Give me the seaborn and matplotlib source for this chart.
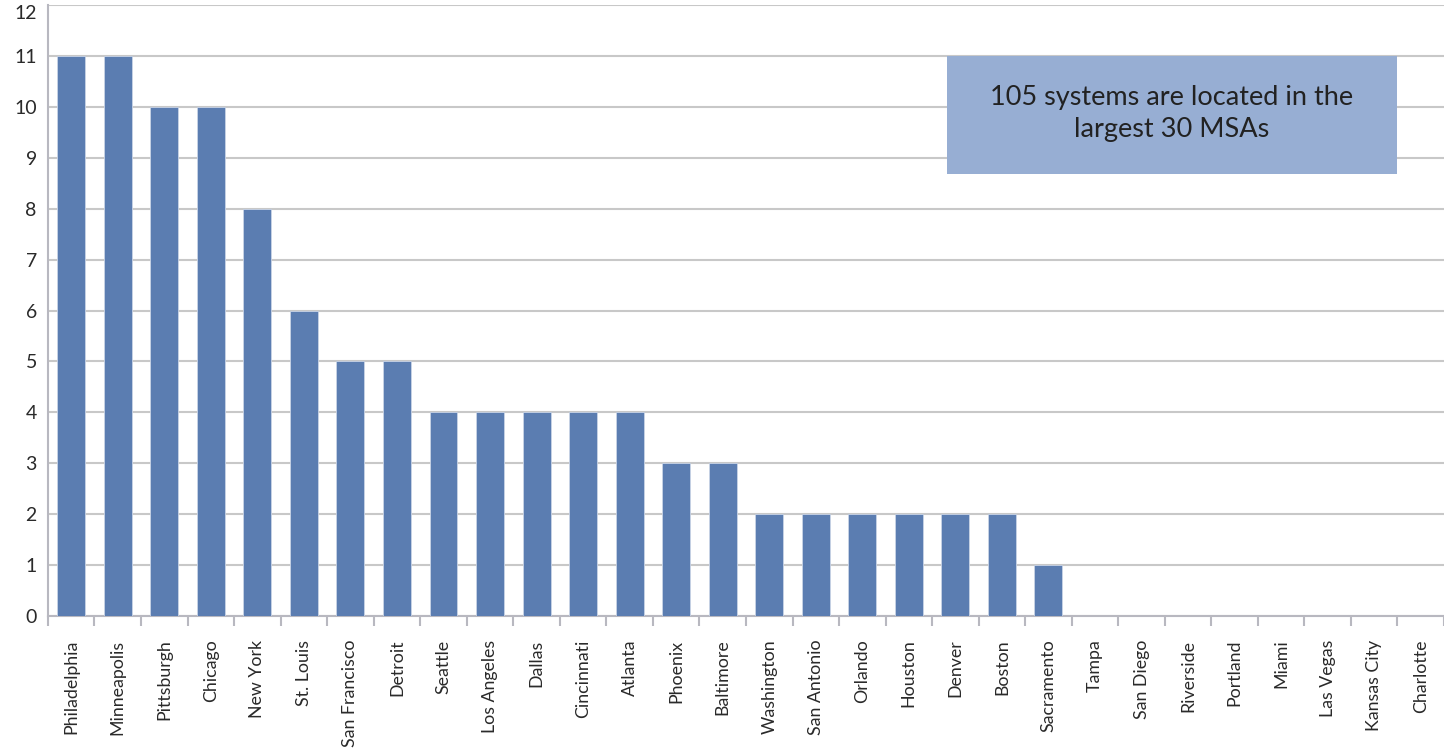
import matplotlib
matplotlib.use("Agg")
import matplotlib.pyplot as plt
import seaborn as sns
import pandas as pd
from matplotlib.patches import Rectangle

cities = ["Philadelphia", "Minneapolis", "Pittsburgh", "Chicago", "New York", "St. Louis",
          "San Francisco", "Detroit", "Seattle", "Los Angeles", "Dallas", "Cincinnati",
          "Atlanta", "Phoenix", "Baltimore", "Washington", "San Antonio", "Orlando",
          "Houston", "Denver", "Boston", "Sacramento", "Tampa", "San Diego", "Riverside",
          "Portland", "Miami", "Las Vegas", "Kansas City", "Charlotte"]
systems = [11, 11, 10, 10, 8, 6, 5, 5, 4, 4, 4, 4, 4, 3, 3, 2, 2, 2, 2, 2, 2, 1,
           0, 0, 0, 0, 0, 0, 0, 0]
note = "105 systems are located in the\nlargest 30 MSAs"

df = pd.DataFrame({"city": cities, "systems": systems})

sns.set_theme(style="white")
plt.rcParams['font.family'] = ['Lato', 'DejaVu Sans']

fig = plt.figure(figsize=(14.44, 7.5), dpi=100)
ax = fig.add_axes([0.0332, 0.1787, 0.9668, 0.8146])

sns.barplot(data=df, x="city", y="systems", color="#5B7DB1", saturation=1,
            width=0.6, ax=ax, zorder=3, edgecolor="#C9D4E6", linewidth=0.6)

ax.set_ylim(0, 12)
ax.set_xlim(-0.5, len(cities) - 0.5)
ax.set_yticks(range(0, 13))
ax.yaxis.grid(True, color="#C8C8C8", linewidth=1.5, zorder=0)
ax.set_axisbelow(True)
ax.set_xlabel("")
ax.set_ylabel("")

for s in ["top", "right"]:
    ax.spines[s].set_visible(False)
for s in ["left", "bottom"]:
    ax.spines[s].set_color("#B8B8C0")
    ax.spines[s].set_linewidth(1.5)

ax.set_xticks(range(len(cities)))
ax.set_xticklabels(cities, rotation=90, fontsize=12.8, color="#2a2a2a")
ax.tick_params(axis="x", which="major", length=0, pad=17)
ax.set_xticks([i + 0.5 for i in range(-1, len(cities))], minor=True)
ax.tick_params(axis="x", which="minor", length=7, width=1.5, color="#B8B8C0", bottom=True)
ax.tick_params(axis="y", length=0, labelsize=14, labelcolor="#2a2a2a", pad=8)
top_label = ax.get_yticklabels()[-1]
top_label.set_va("top")

rect = Rectangle((18.81, 8.68), 28.49 - 18.81, 11.0 - 8.68, facecolor="#97AED3",
                 edgecolor="none", zorder=4)
ax.add_patch(rect)
ax.text((18.81 + 28.49) / 2, 9.86, note, ha="center", va="center", fontsize=19.5,
        color="#222222", zorder=5, linespacing=1.35)

fig.savefig("out.png", dpi=100)
